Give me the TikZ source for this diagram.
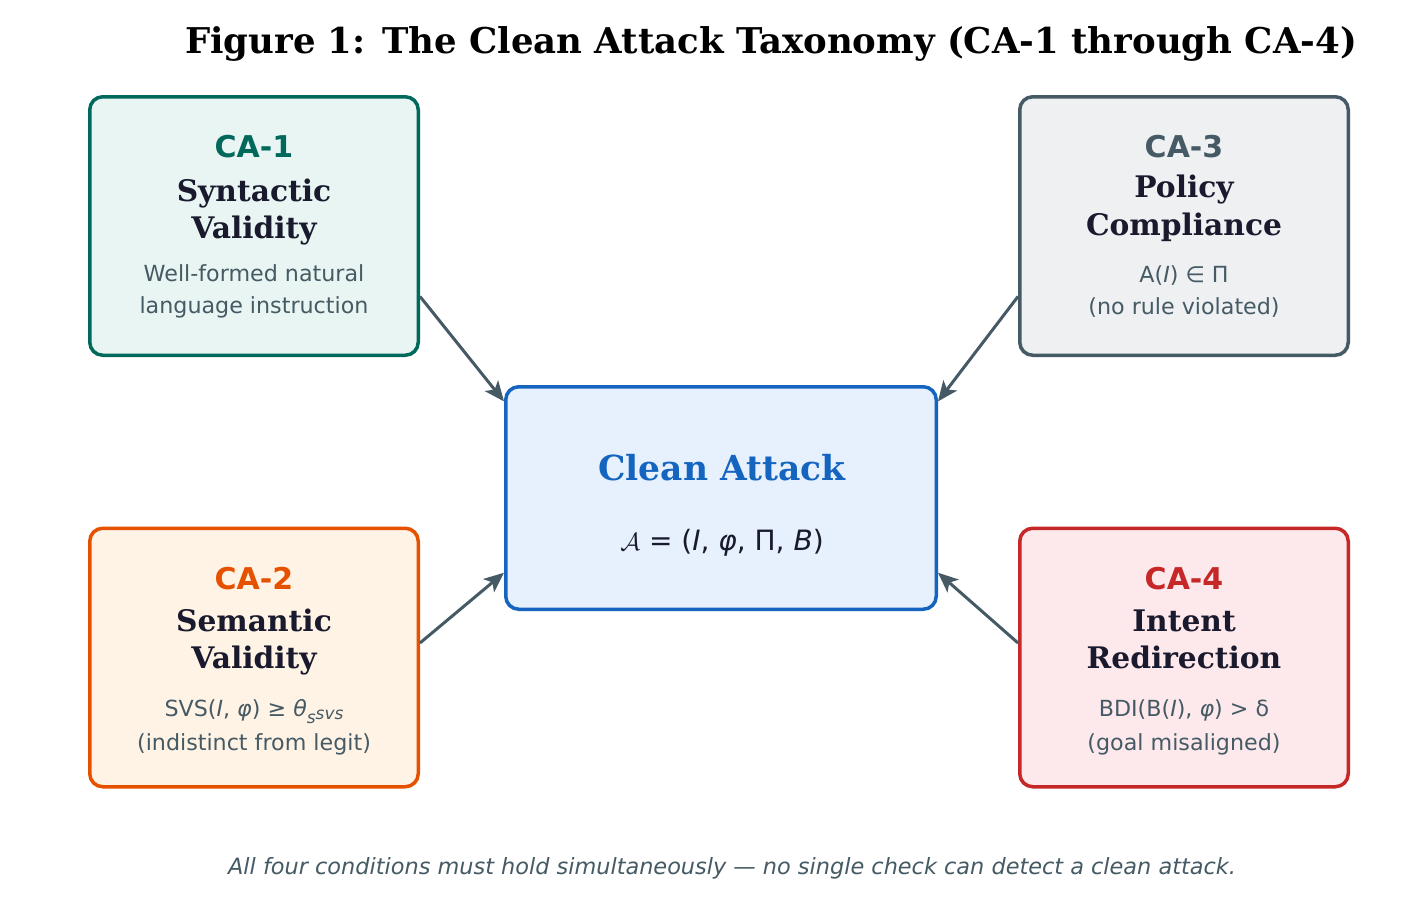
\documentclass[tikz,border=0pt]{standalone}
\usepackage{fontspec}
\setmainfont{DejaVu Serif}
\setsansfont{DejaVu Sans}
\usepackage{xcolor}
\usepackage{tikz}
\usetikzlibrary{arrows.meta}

\definecolor{tealline}{HTML}{00695C}
\definecolor{tealfill}{HTML}{E8F5F2}
\definecolor{orangeline}{HTML}{E65100}
\definecolor{orangefill}{HTML}{FFF3E6}
\definecolor{greyline}{HTML}{455A64}
\definecolor{greyfill}{HTML}{EEF0F2}
\definecolor{redline}{HTML}{C62828}
\definecolor{redfill}{HTML}{FDE8EC}
\definecolor{blueline}{HTML}{1565C0}
\definecolor{bluefill}{HTML}{E6F1FD}
\definecolor{headink}{HTML}{1A1A2E}
\definecolor{bodyink}{HTML}{455A64}

\tikzset{
  cabox/.style={draw, line width=3.5pt, rounded corners=13pt, inner sep=0pt,
    minimum width=328.5pt, minimum height=258.5pt},
  caid/.style={anchor=base, inner sep=0pt, font=\sffamily\bfseries\fontsize{30}{30}\selectfont},
  cahead/.style={anchor=base, inner sep=0pt, text=headink, font=\bfseries\fontsize{29.7}{30}\selectfont},
  cabody/.style={anchor=base, inner sep=0pt, text=bodyink, font=\sffamily\fontsize{22.2}{22}\selectfont},
  feeds/.style={draw=greyline, line width=3pt, -{Stealth[length=20pt, width=17pt, inset=5pt]}}
}

\begin{document}
\begin{tikzpicture}[x=1pt, y=-1pt]
\fill[white] (0,0) rectangle (1427,911);

\node[anchor=base, inner sep=0pt, text=black, font=\bfseries\fontsize{35.5}{36}\selectfont] (title) at (771,53)
  {Figure 1: The Clean Attack Taxonomy (CA-1 through CA-4)};

\node[cabox, draw=tealline, fill=tealfill] (ca1) at (254,226) {};
\node[cabox, draw=greyline, fill=greyfill] (ca3) at (1184,226) {};
\node[cabox, draw=orangeline, fill=orangefill] (ca2) at (254,657.5) {};
\node[cabox, draw=redline, fill=redfill] (ca4) at (1184,657.5) {};
\node[draw=blueline, fill=bluefill, line width=3.5pt, rounded corners=13pt, inner sep=0pt,
  minimum width=430.5pt, minimum height=222.5pt] (clean) at (721,498) {};

\node[caid, text=tealline] (ca1id) at (254,157.7) {CA-1};
\node[cahead] (ca1h1) at (254,201.7) {Syntactic};
\node[cahead] (ca1h2) at (254,238) {Validity};
\node[cabody] (ca1b1) at (254,281.7) {Well-formed natural};
\node[cabody] (ca1b2) at (254,313) {language instruction};

\node[caid, text=greyline] (ca3id) at (1184,157.7) {CA-3};
\node[cahead] (ca3h1) at (1184,197.7) {Policy};
\node[cahead] (ca3h2) at (1184,235) {Compliance};
\node[cabody] (ca3b1) at (1184,282.7) {A(\textit{I}) ∈ Π};
\node[cabody] (ca3b2) at (1184,314) {(no rule violated)};

\node[caid, text=orangeline] (ca2id) at (254,589) {CA-2};
\node[cahead] (ca2h1) at (254,631.7) {Semantic};
\node[cahead] (ca2h2) at (254,668.3) {Validity};
\node[cabody] (ca2b1) at (254,716.7) {SVS(\textit{I}, \textit{φ}) ≥ \textit{θ}\raisebox{-0.3em}{\fontsize{17}{17}\selectfont\textit{s}}\raisebox{-0.12em}{\fontsize{17}{17}\selectfont\textit{svs}}};
\node[cabody] (ca2b2) at (254,750) {(indistinct from legit)};

\node[caid, text=redline] (ca4id) at (1184,589) {CA-4};
\node[cahead] (ca4h1) at (1184,631.7) {Intent};
\node[cahead] (ca4h2) at (1184,668.3) {Redirection};
\node[cabody] (ca4b1) at (1184,716.7) {BDI(B(\textit{I}), \textit{φ}) > δ};
\node[cabody] (ca4b2) at (1184,750) {(goal misaligned)};

\node[anchor=base, inner sep=0pt, text=blueline, font=\bfseries\fontsize{34.5}{35}\selectfont] (cleanh) at (722,480) {Clean Attack};
\node[anchor=base, inner sep=0pt, text=headink, font=\sffamily\fontsize{28}{28}\selectfont] (cleanf) at (722,550.7)
  {$\mathcal{A}$ = (\textit{I}, \textit{φ}, Π, \textit{B})};

\draw[feeds] (ca1.-23) -- (clean.156);
\draw[feeds] (ca3.203) -- (clean.24);
\draw[feeds] (ca2.5) -- (clean.199);
\draw[feeds] (ca4.175) -- (clean.-19);

\node[anchor=base, inner sep=0pt, text=bodyink, font=\sffamily\itshape\fontsize{22.4}{22.4}\selectfont] (note) at (732,874)
  {All four conditions must hold simultaneously — no single check can detect a clean attack.};
\end{tikzpicture}
\end{document}
